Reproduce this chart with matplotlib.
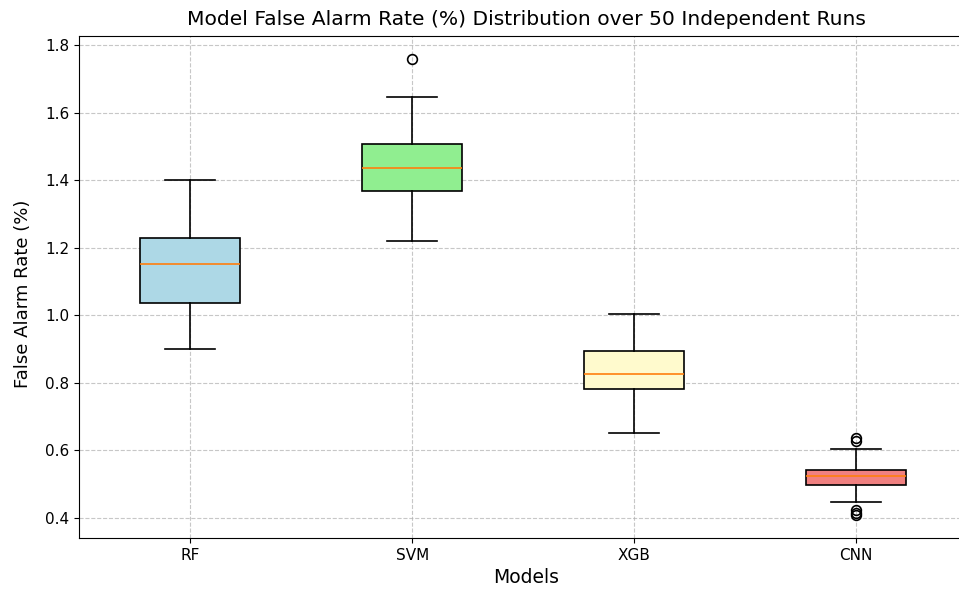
import matplotlib
matplotlib.use('Agg')
import matplotlib.pyplot as plt

models = ['RF', 'SVM', 'XGB', 'CNN']
whislo = [0.900, 1.221, 0.650, 0.448]
q1 = [1.038, 1.368, 0.782, 0.498]
med = [1.153, 1.437, 0.825, 0.524]
q3 = [1.230, 1.508, 0.894, 0.542]
whishi = [1.400, 1.647, 1.003, 0.603]
fliers = [[], [1.759], [], [0.636, 0.627, 0.423, 0.415, 0.408]]
colors = ['lightblue', 'lightgreen', 'lemonchiffon', 'lightcoral']

stats = []
for i in range(len(models)):
    stats.append({'label': models[i], 'whislo': whislo[i], 'q1': q1[i], 'med': med[i],
                  'q3': q3[i], 'whishi': whishi[i], 'fliers': fliers[i]})

fig = plt.figure(figsize=(9.59, 5.94), dpi=100)
# the reference is cropped on the right, so the axes run past the figure edge
ax = fig.add_axes([79/959, 56/594, 895/959, 502/594])

bp = ax.bxp(stats, patch_artist=True, widths=0.45,
            boxprops=dict(edgecolor='black', linewidth=1.2),
            whiskerprops=dict(linewidth=1.2),
            capprops=dict(linewidth=1.2),
            medianprops=dict(color='C1', linewidth=1.2),
            flierprops=dict(marker='o', markersize=7, markerfacecolor='none',
                            markeredgecolor='black', markeredgewidth=1.2))
for patch, col in zip(bp['boxes'], colors):
    patch.set_facecolor(col)

ax.set_xlim(0.5, 4.53)
ax.set_ylim(0.34, 1.828)
ax.set_yticks([0.4, 0.6, 0.8, 1.0, 1.2, 1.4, 1.6, 1.8])
ax.spines['right'].set_visible(False)
ax.grid(True, linestyle='--', color='#b0b0b0', alpha=0.7)
ax.set_axisbelow(True)
ax.tick_params(labelsize=11)
ax.set_title('Model False Alarm Rate (%) Distribution over 50 Independent Runs', fontsize=14.6, pad=8)
ax.set_xlabel('Models', fontsize=13.5)
ax.set_ylabel('False Alarm Rate (%)', fontsize=13)
ax.yaxis.set_label_coords(-0.053, 0.486)

fig.savefig('out.png', dpi=100)
